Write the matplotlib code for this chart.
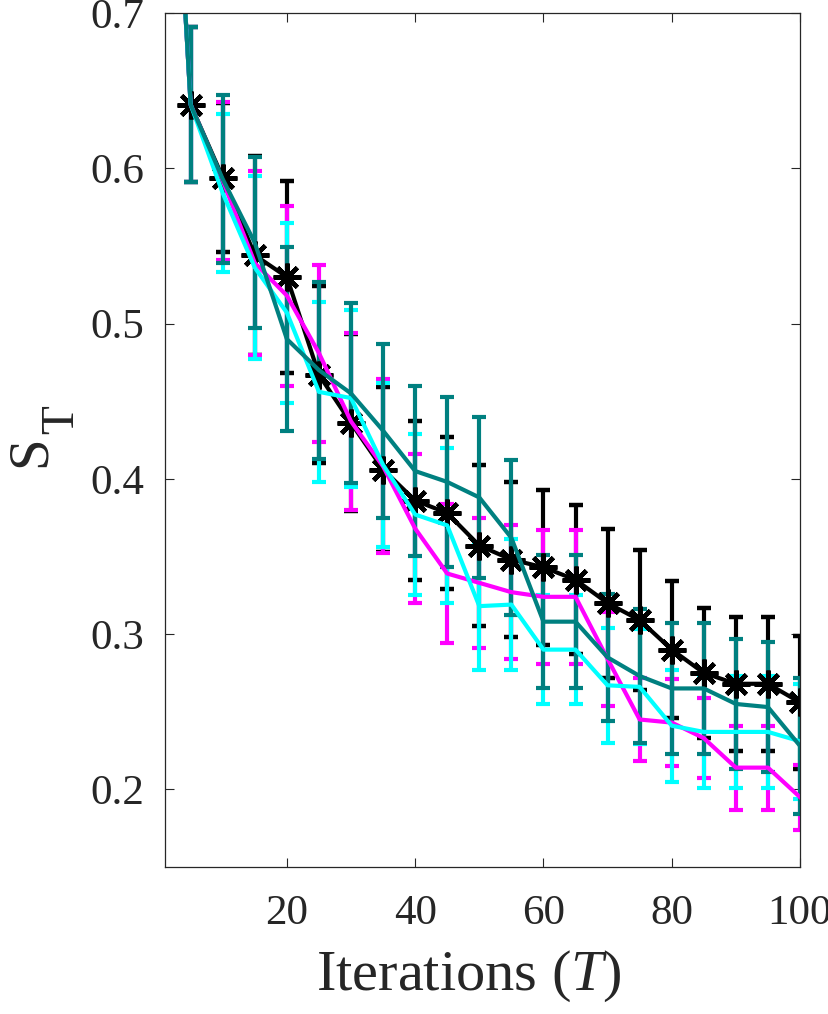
import matplotlib
matplotlib.use('Agg')
import matplotlib.pyplot as plt

# iterations (T)
iters = [0, 5, 10, 15, 20, 25, 30, 35, 40, 45, 50,
         55, 60, 65, 70, 75, 80, 85, 90, 95, 100]

black_mean = [1.0, 0.641, 0.594, 0.544, 0.530, 0.467, 0.436, 0.406, 0.386, 0.378, 0.357,
              0.348, 0.343, 0.335, 0.320, 0.309, 0.290, 0.275, 0.268, 0.268, 0.256]
black_err = [0.0, 0.050, 0.048, 0.064, 0.062, 0.057, 0.057, 0.053, 0.051, 0.049, 0.052,
             0.050, 0.050, 0.048, 0.048, 0.045, 0.044, 0.042, 0.043, 0.043, 0.043]

magenta_mean = [1.0, 0.641, 0.592, 0.539, 0.518, 0.481, 0.437, 0.408, 0.368, 0.339, 0.333,
                0.327, 0.324, 0.324, 0.284, 0.245, 0.243, 0.233, 0.214, 0.214, 0.195]
magenta_err = [0.0, 0.050, 0.051, 0.059, 0.058, 0.057, 0.057, 0.056, 0.048, 0.045, 0.042,
               0.043, 0.043, 0.043, 0.030, 0.027, 0.028, 0.026, 0.027, 0.027, 0.021]

cyan_mean = [1.0, 0.641, 0.584, 0.536, 0.507, 0.456, 0.452, 0.409, 0.377, 0.370, 0.318,
             0.319, 0.290, 0.290, 0.267, 0.266, 0.241, 0.237, 0.237, 0.237, 0.231]
cyan_err = [0.0, 0.050, 0.051, 0.059, 0.058, 0.058, 0.057, 0.053, 0.052, 0.050, 0.041,
            0.042, 0.035, 0.035, 0.037, 0.037, 0.036, 0.036, 0.036, 0.036, 0.037]

teal_mean = [1.0, 0.641, 0.593, 0.552, 0.490, 0.470, 0.455, 0.431, 0.405, 0.398, 0.388,
             0.362, 0.308, 0.308, 0.285, 0.273, 0.265, 0.265, 0.255, 0.253, 0.228]
teal_err = [0.0, 0.050, 0.054, 0.055, 0.059, 0.057, 0.058, 0.056, 0.055, 0.055, 0.052,
            0.050, 0.043, 0.043, 0.041, 0.043, 0.042, 0.042, 0.042, 0.042, 0.044]

plt.rcParams['font.family'] = ['Liberation Serif', 'DejaVu Serif']
plt.rcParams['mathtext.fontset'] = 'custom'
plt.rcParams['mathtext.rm'] = 'Liberation Serif'
plt.rcParams['mathtext.it'] = 'Liberation Serif:italic'

W, H = 829, 1014
fig = plt.figure(figsize=(W / 100, H / 100), dpi=100)
ax = fig.add_axes([165 / W, 1 - 867 / H, 635 / W, 854 / H])

series = [
    (black_mean, black_err, 'black', dict(marker=(8, 2, 0), markersize=20, markeredgewidth=3.2)),
    (magenta_mean, magenta_err, '#ff00ff', {}),
    (cyan_mean, cyan_err, '#00ffff', {}),
    (teal_mean, teal_err, '#008080', {}),
]
for mean, err, col, extra in series:
    ax.errorbar(iters, mean, yerr=err, color=col, linewidth=3.0,
                elinewidth=3.0, capsize=5, capthick=3.0, **extra)

ax.set_xlim(1, 100)
ax.set_ylim(0.15, 0.7)
ax.set_xticks([20, 40, 60, 80, 100])
ax.set_yticks([0.2, 0.3, 0.4, 0.5, 0.6, 0.7])
ax.set_yticklabels(['0.2', '0.3', '0.4', '0.5', '0.6', '0.7'])

ax.tick_params(direction='in', length=6.5, width=0.8, top=True, right=True,
               labelsize=31, colors='#262626')
ax.tick_params(axis='x', pad=20)
ax.tick_params(axis='y', pad=15)
for sp in ax.spines.values():
    sp.set_color('#262626')
    sp.set_linewidth(0.9)

ax.set_xlabel(r'Iterations ($\mathit{T}$)', fontsize=42, color='#262626', labelpad=16)
ax.xaxis.set_label_coords(0.479, -0.095)

# y label S_T, drawn as two rotated texts so the subscript keeps its size
fig.text(45 / W, 1 - 467 / H, 'S', fontsize=41, color='#262626', rotation=90,
         rotation_mode='anchor', ha='left', va='baseline')
fig.text(73 / W, 1 - 434 / H, 'T', fontsize=34, color='#262626', rotation=90,
         rotation_mode='anchor', ha='left', va='baseline')

fig.savefig('out.png', dpi=100)
